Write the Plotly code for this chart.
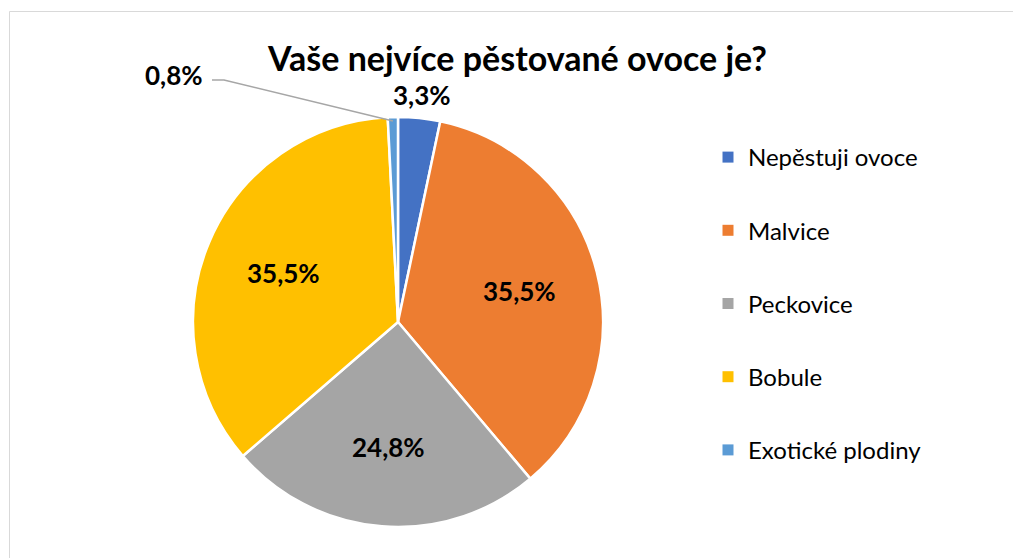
import math
import plotly.graph_objects as go

categories = ["Nepěstuji ovoce", "Malvice", "Peckovice", "Bobule", "Exotické plodiny"]
values = [3.3, 35.5, 24.8, 35.5, 0.8]
colors = ["#4472C4", "#ED7D31", "#A5A5A5", "#FFC000", "#5B9BD5"]
title_text = "Vaše nejvíce pěstované ovoce je?"

W, H = 1021, 558
OFF = 8  # page body margin
FW, FH = W - OFF, H - OFF
CX, CY, R = 398, 322, 205  # pie centre / radius in page px

FONT = "Lato"

def fmt(v):
    return f"{v:.1f}".replace(".", ",") + "%"

def P(x, y):
    return (x - OFF) / FW, 1 - (y - OFF) / FH

fig = go.Figure()
x0, _ = P(CX - R, 0)
x1, _ = P(CX + R, 0)
_, y0 = P(0, CY + R)
_, y1 = P(0, CY - R)
fig.add_trace(go.Pie(
    labels=categories, values=values, sort=False, direction="clockwise",
    rotation=0, textinfo="none", hoverinfo="label+percent",
    marker=dict(colors=colors, line=dict(color="white", width=2.5)),
    domain=dict(x=[x0, x1], y=[y0, y1]),
    showlegend=False,
))

for c, col in zip(categories, colors):
    fig.add_trace(go.Scatter(
        x=[None], y=[None], mode="markers", name=c, legendgroup=c,
        marker=dict(symbol="square", size=11, color=col),
    ))

LBL = dict(family=FONT, size=26, color="black")

def ann(x, y, text, font):
    px, py = P(x, y)
    return dict(x=px, y=py, text=text, showarrow=False, xref="paper", yref="paper",
                xanchor="center", yanchor="middle", font=font)

total = sum(values)
cum = 0
annotations = []
shapes = []
for i, v in enumerate(values):
    mid = (cum + v / 2) / total * 2 * math.pi
    cum += v
    sx, sy = math.sin(mid), -math.cos(mid)
    if i == 0:
        r = R + 23
        annotations.append(ann(CX + r * sx, CY + r * sy, f"<b>{fmt(v)}</b>", LBL))
    elif i == len(values) - 1:
        ex, ey = CX + (R - 4) * sx, CY + (R - 4) * sy
        lx, ly = 174, 75
        p1 = P(ex, ey)
        p2 = P(lx + 50, ly + 5)
        p3 = P(lx + 38, ly + 5)
        shapes.append(dict(type="path", xref="paper", yref="paper",
                           path=f"M {p1[0]},{p1[1]} L {p2[0]},{p2[1]} L {p3[0]},{p3[1]}",
                           line=dict(color="#A6A6A6", width=1.5)))
        annotations.append(ann(lx, ly, f"<b>{fmt(v)}</b>", LBL))
    else:
        r = 0.61 * R
        annotations.append(ann(CX + r * sx, CY + r * sy, f"<b>{fmt(v)}</b>", LBL))

annotations.append(ann(517, 57, f"<b>{title_text}</b>", dict(family=FONT, size=34, color="black")))

fx0, fy1 = P(9.5, 11.5)
shapes.append(dict(type="rect", xref="paper", yref="paper",
                   x0=fx0, x1=1.2, y0=-0.2, y1=fy1,
                   line=dict(color="#D9D9D9", width=1), layer="below"))

lgx, lgy = P(708, 135)
fig.update_layout(
    width=FW, height=FH, margin=dict(l=0, r=0, t=0, b=0),
    paper_bgcolor="white", plot_bgcolor="white",
    xaxis=dict(visible=False), yaxis=dict(visible=False),
    annotations=annotations, shapes=shapes,
    legend=dict(x=lgx, y=lgy, xanchor="left", yanchor="top",
                font=dict(family=FONT, size=24, color="black"),
                tracegroupgap=39, bgcolor="rgba(0,0,0,0)"),
    font=dict(family=FONT),
)

fig.write_html("out.html")
